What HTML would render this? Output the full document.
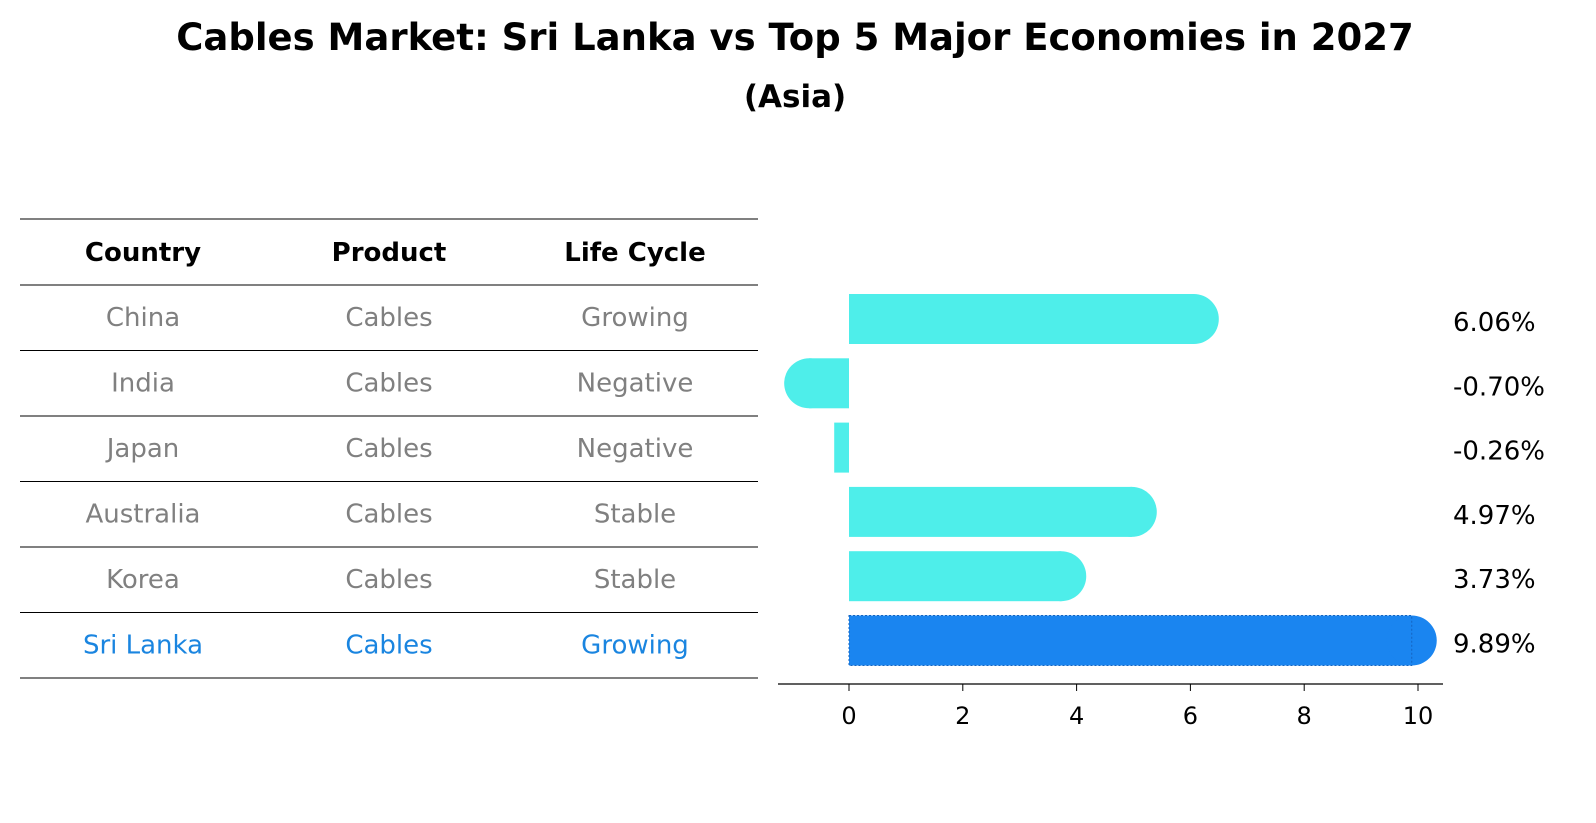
<!DOCTYPE html>
<html><head><meta charset="utf-8"><style>
body{margin:0;background:#fff;font-family:"DejaVu Sans","Liberation Sans",sans-serif}
svg{display:block}
</style></head><body>
<svg width="1596" height="823" xmlns="http://www.w3.org/2000/svg" font-family="DejaVu Sans, Liberation Sans, sans-serif">
<text x="795" y="50" text-anchor="middle" font-size="37" font-weight="bold">Cables Market: Sri Lanka vs Top 5 Major Economies in 2027</text>
<text x="795" y="107" text-anchor="middle" font-size="31" font-weight="bold">(Asia)</text>
<g id="table"></g>
<g id="bars"></g>
</svg>
<script>
const countries=["China","India","Japan","Australia","Korea","Sri Lanka"];
const products=["Cables","Cables","Cables","Cables","Cables","Cables"];
const lifeCycles=["Growing","Negative","Negative","Stable","Stable","Growing"];
const values=[6.06,-0.70,-0.26,4.97,3.73,9.89];
const tickLabels=[0,2,4,6,8,10];
const NS="http://www.w3.org/2000/svg";
function mk(tag,attrs,parent,text){const e=document.createElementNS(NS,tag);for(const k in attrs)e.setAttribute(k,attrs[k]);if(text!==undefined)e.textContent=text;parent.appendChild(e);return e;}
const tbl=document.getElementById('table');
const rowY=i=>285+i*65.5;
const colX=[143,389,635];
for(let i=0;i<=7;i++){const y=i===0?219:rowY(i-1);const l=mk('line',{x1:20,x2:758,y1:y,y2:y,stroke:'#000','stroke-width':1},tbl);

}
["Country","Product","Life Cycle"].forEach((h,j)=>{const t=mk('text',{x:colX[j],y:261,'text-anchor':'middle','font-size':26,'font-weight':'bold'},tbl,h);

});
countries.forEach((c,i)=>{const col=i===countries.length-1?'#1a85e0':'#808080';
[c,products[i],lifeCycles[i]].forEach((v,j)=>{const t=mk('text',{x:colX[j],y:rowY(i)+41,'text-anchor':'middle','font-size':26,fill:col},tbl,v);

});});
const g=document.getElementById('bars');
const x0=849,scale=56.9;const xs=v=>x0+v*scale;
const barY=i=>319+i*64.3;const h=50,r=25;
values.forEach((v,i)=>{const last=i===values.length-1;const fill=last?'#1a85f0':'#4eeeea';
const a=Math.min(xs(0),xs(v)),b=Math.max(xs(0),xs(v));
const rect=mk('rect',{x:a,y:barY(i)-h/2,width:b-a,height:h,fill:fill},g);


if(Math.abs(v)>0.5){const cx=xs(v);const cap=mk('circle',{cx:cx,cy:barY(i),r:r,fill:fill},g);

}
if(last){const o=mk('rect',{x:a,y:barY(i)-h/2,width:b-a,height:h,fill:'none',stroke:'#1565c0','stroke-dasharray':'2,2','stroke-width':1},g);

}
const t=mk('text',{x:1453,y:barY(i)+12,'font-size':26},g,v.toFixed(2)+'%');

});
const ax=mk('line',{x1:778,x2:1443,y1:684,y2:684,stroke:'#000','stroke-width':1.3},g);


tickLabels.forEach(t=>{const tk=mk('line',{x1:xs(t),x2:xs(t),y1:684,y2:691,stroke:'#000'},g);


const lb=mk('text',{x:xs(t),y:724,'text-anchor':'middle','font-size':24},g,String(t));

});
</script>
</body></html>
